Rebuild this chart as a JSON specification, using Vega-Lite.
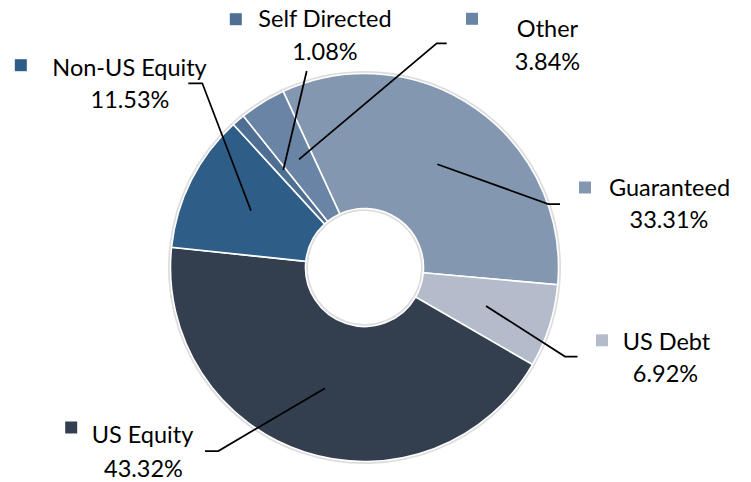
{
  "$schema": "https://vega.github.io/schema/vega-lite/v6.json",
  "width": 751,
  "height": 482,
  "padding": 0,
  "autosize": {"type": "none"},
  "background": "white",
  "config": {"view": {"stroke": null}, "font": "Lato"},
  "datasets": {
    "slices": [
      {"name": "Guaranteed", "value": 33.31, "ord": 1},
      {"name": "US Debt", "value": 6.92, "ord": 2},
      {"name": "US Equity", "value": 43.32, "ord": 3},
      {"name": "Non-US Equity", "value": 11.53, "ord": 4},
      {"name": "Self Directed", "value": 1.08, "ord": 5},
      {"name": "Other", "value": 3.84, "ord": 6}
    ],
    "leaders": [
      {"name": "Non-US Equity", "i": 1, "lx": -58.51, "ly": 29.28},
      {"name": "Non-US Equity", "i": 2, "lx": -83.61, "ly": 94.95},
      {"name": "Non-US Equity", "i": 3, "lx": -90.82, "ly": 94.95},
      {"name": "Self Directed", "i": 1, "lx": -41.86, "ly": 50.26},
      {"name": "Self Directed", "i": 2, "lx": -29.79, "ly": 101.29},
      {"name": "Other", "i": 1, "lx": -33.76, "ly": 55.77},
      {"name": "Other", "i": 2, "lx": 37.22, "ly": 115.57},
      {"name": "Other", "i": 3, "lx": 42.37, "ly": 115.57},
      {"name": "Guaranteed", "i": 1, "lx": 37.53, "ly": 53.2},
      {"name": "Guaranteed", "i": 2, "lx": 94.74, "ly": 32.73},
      {"name": "Guaranteed", "i": 3, "lx": 100.77, "ly": 32.73},
      {"name": "US Debt", "i": 1, "lx": 62.63, "ly": -19.85},
      {"name": "US Debt", "i": 2, "lx": 103.35, "ly": -45.88},
      {"name": "US Debt", "i": 3, "lx": 109.79, "ly": -45.88},
      {"name": "US Equity", "i": 1, "lx": -20.36, "ly": -62.27},
      {"name": "US Equity", "i": 2, "lx": -75.36, "ly": -94.59},
      {"name": "US Equity", "i": 3, "lx": -82.22, "ly": -94.59}
    ],
    "labels": [
      {"name": "Non-US Equity", "pct": "11.53%", "nx": -121.13, "ny": 98.71, "px": -120.88, "py": 82.22, "sx": -177.16, "sy": 104.28},
      {"name": "Self Directed", "pct": "1.08%", "nx": -20.36, "ny": 123.97, "px": -20.36, "py": 106.96, "sx": -66.34, "sy": 127.99},
      {"name": "Other", "pct": "3.84%", "nx": 94.33, "ny": 118.81, "px": 94.33, "py": 101.8, "sx": 55.41, "sy": 128.2},
      {"name": "Guaranteed", "pct": "33.31%", "nx": 157.22, "ny": 36.86, "px": 156.96, "py": 20.36, "sx": 113.66, "sy": 41.24},
      {"name": "US Debt", "pct": "6.92%", "nx": 155.67, "ny": -42.53, "px": 155.15, "py": -59.02, "sx": 122.42, "sy": -37.53},
      {"name": "US Equity", "pct": "43.32%", "nx": -114.43, "ny": -90.46, "px": -113.92, "py": -107.99, "sx": -151.19, "sy": -82.47}
    ]
  },
  "layer": [
    {
      "data": {"name": "slices"},
      "mark": {"type": "arc", "outerRadius": 196.5, "innerRadius": 56.5, "fill": "#cfcfcf", "fillOpacity": 0.7},
      "encoding": {
        "x": {"datum": 0, "type": "quantitative", "scale": {"domain": [-187.89, 199.23], "nice": false, "zero": false}, "axis": null},
        "y": {"datum": 0, "type": "quantitative", "scale": {"domain": [-110.57, 137.89], "nice": false, "zero": false}, "axis": null},
        "theta": {"field": "value", "type": "quantitative", "stack": true, "scale": {"range": [-0.4328, 5.8504]}},
        "order": {"field": "ord"}
      }
    },
    {
      "data": {"name": "slices"},
      "mark": {"type": "arc", "outerRadius": 194, "innerRadius": 59, "stroke": "white", "strokeWidth": 1.6},
      "encoding": {
        "x": {"datum": 0, "type": "quantitative", "axis": null},
        "y": {"datum": 0, "type": "quantitative", "axis": null},
        "theta": {"field": "value", "type": "quantitative", "stack": true, "scale": {"range": [-0.4328, 5.8504]}},
        "order": {"field": "ord"},
        "color": {
          "field": "name", "type": "nominal", "legend": null,
          "scale": {
            "domain": ["Guaranteed", "US Debt", "US Equity", "Non-US Equity", "Self Directed", "Other"],
            "range": ["#8497b0", "#b4bccb", "#333f4f", "#2e5e87", "#4e6e93", "#6a84a5"]
          }
        }
      }
    },
    {
      "data": {"name": "leaders"},
      "mark": {"type": "line", "stroke": "black", "strokeWidth": 1.75, "interpolate": "linear"},
      "encoding": {
        "x": {"field": "lx", "type": "quantitative", "axis": null},
        "y": {"field": "ly", "type": "quantitative", "axis": null},
        "detail": {"field": "name", "type": "nominal"},
        "order": {"field": "i"}
      }
    },
    {
      "data": {"name": "labels"},
      "mark": {"type": "point", "shape": "square", "filled": true, "size": 144, "opacity": 1},
      "encoding": {
        "x": {"field": "sx", "type": "quantitative", "axis": null},
        "y": {"field": "sy", "type": "quantitative", "axis": null},
        "color": {"field": "name", "type": "nominal", "legend": null}
      }
    },
    {
      "data": {"name": "labels"},
      "mark": {"type": "text", "align": "center", "baseline": "alphabetic", "fontSize": 23.5, "color": "black"},
      "encoding": {
        "x": {"field": "nx", "type": "quantitative", "axis": null},
        "y": {"field": "ny", "type": "quantitative", "axis": null},
        "text": {"field": "name"}
      }
    },
    {
      "data": {"name": "labels"},
      "mark": {"type": "text", "align": "center", "baseline": "alphabetic", "fontSize": 23.5, "color": "black"},
      "encoding": {
        "x": {"field": "px", "type": "quantitative", "axis": null},
        "y": {"field": "py", "type": "quantitative", "axis": null},
        "text": {"field": "pct"}
      }
    }
  ]
}
